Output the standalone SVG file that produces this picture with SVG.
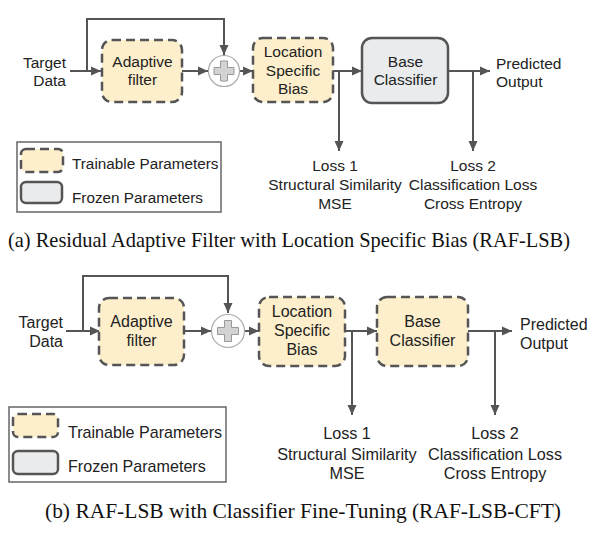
<svg xmlns="http://www.w3.org/2000/svg" width="601" height="544" viewBox="0 0 601 544">
<defs>
<marker id="ah" markerUnits="userSpaceOnUse" markerWidth="10" markerHeight="10" refX="10" refY="5" orient="auto">
<path d="M0,0.5 L10,5 L0,9.5 z" fill="#555"/>
</marker>
<style>
.t{font-family:"Liberation Sans",Arial,sans-serif;fill:#222;}
.cap{font-family:"Liberation Serif","Times New Roman",serif;fill:#111;}
.train{fill:#fdefcb;stroke:#555;stroke-width:2.5;stroke-dasharray:9 5;}
.frozen{fill:#e9ebed;stroke:#555;stroke-width:2.5;}
.ln{fill:none;stroke:#555;stroke-width:2;}
.arr{fill:none;stroke:#555;stroke-width:2;marker-end:url(#ah);}
.sum{fill:#fff;stroke:#aaa;stroke-width:1.2;}
.plus{fill:#d3d3d3;stroke:#999;stroke-width:1;}
.leg{fill:none;stroke:#666;stroke-width:1.5;}
</style>
</defs>
<rect width="601" height="544" fill="#fff"/>

<!-- Panel (a) -->
<g id="connectors-a">
<path class="arr" d="M70,71 H101"/>
<path class="arr" d="M87,71 V19 H224 V55"/>
<path class="arr" d="M182,71 H208"/>
<path class="arr" d="M240,71 H253"/>
<path class="arr" d="M333,71 H362"/>
<path class="arr" d="M339,71 V151"/>
<path class="arr" d="M448,71 H490"/>
<path class="arr" d="M473,71 V151"/>
</g>
<g id="a-input">
<text class="t" font-size="15.5" text-anchor="end" x="66" y="68">Target</text>
<text class="t" font-size="15.5" text-anchor="end" x="66" y="86">Data</text>
</g>
<g id="a-adaptive">
<rect class="train" x="102" y="40" width="80" height="62" rx="10"/>
<text class="t" font-size="15.5" text-anchor="middle" x="142.5" y="67">Adaptive</text>
<text class="t" font-size="15.5" text-anchor="middle" x="142.5" y="85">filter</text>
</g>
<g id="a-sum">
<circle class="sum" cx="224" cy="71" r="15.5"/>
<path class="plus" d="M220.5,61 h7 v6.5 h6.5 v7 h-6.5 v6.5 h-7 v-6.5 h-6.5 v-7 h6.5 z"/>
</g>
<g id="a-lsb">
<rect class="train" x="253" y="38" width="80" height="64" rx="10"/>
<text class="t" font-size="15.5" text-anchor="middle" x="293" y="57">Location</text>
<text class="t" font-size="15.5" text-anchor="middle" x="293" y="76">Specific</text>
<text class="t" font-size="15.5" text-anchor="middle" x="293" y="94">Bias</text>
</g>
<g id="a-classifier">
<rect class="frozen" x="362" y="38" width="86" height="65" rx="10"/>
<text class="t" font-size="15.5" text-anchor="middle" x="405.5" y="67">Base</text>
<text class="t" font-size="15.5" text-anchor="middle" x="405.5" y="85">Classifier</text>
</g>
<g id="a-output">
<text class="t" font-size="15.5" x="496" y="69">Predicted</text>
<text class="t" font-size="15.5" x="496" y="87">Output</text>
</g>
<g id="a-loss1">
<text class="t" font-size="15.5" text-anchor="middle" x="335" y="171">Loss 1</text>
<text class="t" font-size="15.5" text-anchor="middle" x="335" y="190">Structural Similarity</text>
<text class="t" font-size="15.5" text-anchor="middle" x="335" y="209">MSE</text>
</g>
<g id="a-loss2">
<text class="t" font-size="15.5" text-anchor="middle" x="473" y="171">Loss 2</text>
<text class="t" font-size="15.5" text-anchor="middle" x="473" y="190">Classification Loss</text>
<text class="t" font-size="15.5" text-anchor="middle" x="473" y="209">Cross Entropy</text>
</g>
<g id="a-legend">
<rect class="leg" x="17" y="142" width="204" height="70"/>
<rect class="train" x="21" y="149" width="42" height="23" rx="5"/>
<text class="t" font-size="15.3" x="72" y="169">Trainable Parameters</text>
<rect class="frozen" x="21" y="182" width="41" height="21" rx="5"/>
<text class="t" font-size="15.3" x="72" y="203">Frozen Parameters</text>
</g>
<text class="cap" font-size="21" x="8" y="247" textLength="562" lengthAdjust="spacingAndGlyphs">(a) Residual Adaptive Filter with Location Specific Bias (RAF-LSB)</text>

<!-- Panel (b) -->
<g id="connectors-b">
<path class="arr" d="M66,331 H100"/>
<path class="arr" d="M83,331 V276 H228 V313"/>
<path class="arr" d="M184,331 H211"/>
<path class="arr" d="M245,331 H259"/>
<path class="arr" d="M345,331 H377"/>
<path class="arr" d="M352,331 V415"/>
<path class="arr" d="M468,331 H512"/>
<path class="arr" d="M495,331 V415"/>
</g>
<g id="b-input">
<text class="t" font-size="16" text-anchor="end" x="63" y="328">Target</text>
<text class="t" font-size="16" text-anchor="end" x="63" y="347">Data</text>
</g>
<g id="b-adaptive">
<rect class="train" x="99" y="298" width="85" height="67" rx="10"/>
<text class="t" font-size="16" text-anchor="middle" x="141.5" y="327">Adaptive</text>
<text class="t" font-size="16" text-anchor="middle" x="141.5" y="346">filter</text>
</g>
<g id="b-sum">
<circle class="sum" cx="228" cy="331" r="16.5"/>
<path class="plus" d="M224.5,320.5 h7 v7 h7 v7 h-7 v7 h-7 v-7 h-7 v-7 h7 z"/>
</g>
<g id="b-lsb">
<rect class="train" x="259" y="297" width="86" height="69" rx="10"/>
<text class="t" font-size="16" text-anchor="middle" x="302" y="317">Location</text>
<text class="t" font-size="16" text-anchor="middle" x="302" y="336">Specific</text>
<text class="t" font-size="16" text-anchor="middle" x="302" y="355">Bias</text>
</g>
<g id="b-classifier">
<rect class="train" x="377" y="297" width="91" height="69" rx="10"/>
<text class="t" font-size="16" text-anchor="middle" x="422.5" y="327">Base</text>
<text class="t" font-size="16" text-anchor="middle" x="422.5" y="346">Classifier</text>
</g>
<g id="b-output">
<text class="t" font-size="16" x="520" y="330">Predicted</text>
<text class="t" font-size="16" x="520" y="349">Output</text>
</g>
<g id="b-loss1">
<text class="t" font-size="16.2" text-anchor="middle" x="347" y="439">Loss 1</text>
<text class="t" font-size="16.2" text-anchor="middle" x="347" y="460">Structural Similarity</text>
<text class="t" font-size="16.2" text-anchor="middle" x="347" y="479">MSE</text>
</g>
<g id="b-loss2">
<text class="t" font-size="16.2" text-anchor="middle" x="495" y="439">Loss 2</text>
<text class="t" font-size="16.2" text-anchor="middle" x="495" y="460">Classification Loss</text>
<text class="t" font-size="16.2" text-anchor="middle" x="495" y="479">Cross Entropy</text>
</g>
<g id="b-legend">
<rect class="leg" x="9" y="407" width="217" height="75"/>
<rect class="train" x="13" y="414" width="45" height="23" rx="5"/>
<text class="t" font-size="16.1" x="68" y="438">Trainable Parameters</text>
<rect class="frozen" x="13" y="451" width="45" height="23" rx="5"/>
<text class="t" font-size="16.1" x="68" y="472">Frozen Parameters</text>
</g>
<text class="cap" font-size="21" x="45" y="518" textLength="516" lengthAdjust="spacingAndGlyphs">(b) RAF-LSB with Classifier Fine-Tuning (RAF-LSB-CFT)</text>
</svg>
